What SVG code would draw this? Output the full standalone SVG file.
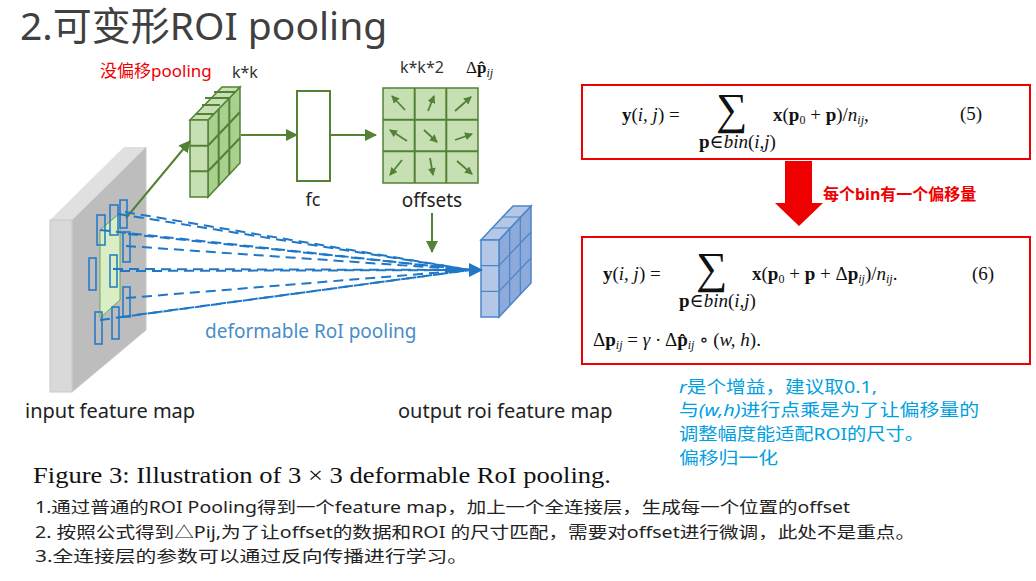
<svg xmlns="http://www.w3.org/2000/svg" width="1036" height="581" viewBox="0 0 1036 581">
<defs>
<style>
.sans{font-family:"Noto Sans","Noto Sans CJK SC",sans-serif}
.serif{font-family:"Liberation Serif","DejaVu Serif",serif}
.g{fill:#c6e0b4;stroke:#538135;stroke-width:1.5}
.gs{fill:#a9d08e;stroke:#538135;stroke-width:1.5}
.b{fill:#b4c7e7;stroke:#4a86c8;stroke-width:1.5}
.bs{fill:#8eaadb;stroke:#4a86c8;stroke-width:1.5}
.gl{stroke:#538135;stroke-width:2;fill:none}
.dash{stroke:#1f77c8;stroke-width:2;stroke-dasharray:10 6;fill:none}
.roi{fill:none;stroke:#1f77c8;stroke-width:1.5}
.eq{font-family:"Liberation Serif","DejaVu Serif",serif;font-size:19px;fill:#111}
.note{font-family:"Noto Sans","Noto Sans CJK SC",sans-serif;font-size:17px;fill:#00a0e0}
.line{font-family:"Noto Sans","Noto Sans CJK SC",sans-serif;font-size:16px;fill:#222}
</style>
<marker id="ga" markerWidth="8" markerHeight="8" refX="7" refY="4" orient="auto" markerUnits="userSpaceOnUse"><path d="M0,0 L8,4 L0,8 Z" fill="#538135"/></marker>
<marker id="gA" markerWidth="12" markerHeight="12" refX="11" refY="6" orient="auto" markerUnits="userSpaceOnUse"><path d="M0,0 L12,6 L0,12 Z" fill="#538135"/></marker>
<marker id="ba" markerWidth="14" markerHeight="14" refX="13" refY="7" orient="auto" markerUnits="userSpaceOnUse"><path d="M0,0 L14,7 L0,14 Z" fill="#1f77c8"/></marker>
</defs>
<rect width="1036" height="581" fill="#fff"/>
<text x="20" y="40" class="sans" font-size="39" fill="#404040">2.可变形ROI pooling</text>

<g id="input-map">
<polygon points="72,220 146,147 146,330 72,392" fill="#bdbdbd" stroke="#c8c8c8"/>
<polygon points="50,220 124,147 146,147 72,220" fill="#e0e0e0"/>
<rect x="50" y="220" width="22" height="172" fill="#d9d9d9" stroke="#c8c8c8"/>
<polygon points="100,230 120,213 120,300 100,318" fill="#d9eec4" stroke="#6aa84f"/>
<g class="roi">
<rect x="97" y="215" width="8" height="30"/><rect x="110" y="205" width="8" height="30"/><rect x="120" y="200" width="7" height="28"/>
<rect x="123" y="232" width="7" height="30"/><rect x="89" y="258" width="7" height="32"/><rect x="110" y="255" width="7" height="32"/>
<rect x="123" y="287" width="7" height="30"/><rect x="95" y="312" width="7" height="32"/><rect x="112" y="307" width="7" height="32"/>
</g>
<text x="25" y="418" class="sans" font-size="20" fill="#222">input feature map</text>
</g>

<g id="pooled-cube">
<polygon points="208,120 240,87 240,163 208,197" class="gs"/>
<polygon points="190,120 222,87 240,87 208,120" class="g"/>
<rect x="190" y="120" width="18" height="77" class="g"/>
<path d="M190,145.7 H208 M190,171.3 H208 M208,145.7 L240,112 M208,171.3 L240,138 M218.7,109 V186 M229.3,98 V175 M196,114 H214 M202,105 H220 M205,98 H230 M214,92 H236" class="gl" stroke-width="1.2"/>
<text x="232" y="78" class="sans" font-size="16" fill="#333">k*k</text>
<text x="100" y="77" class="sans" font-size="17" fill="#e00">没偏移pooling</text>
</g>

<g id="fc">
<rect x="297" y="91" width="33" height="90" fill="#fff" stroke="#538135" stroke-width="2"/>
<text x="313" y="206" class="sans" font-size="18" fill="#222" text-anchor="middle">fc</text>
</g>

<g id="offsets">
<rect x="383" y="88" width="95" height="95" class="g" stroke-width="2"/>
<path d="M414.7,88 V183 M446.3,88 V183 M383,119.7 H478 M383,151.3 H478" class="gl"/>
<g stroke="#538135" stroke-width="1.8" marker-end="url(#ga)">
<line x1="405" y1="110" x2="392" y2="96"/><line x1="428" y1="111" x2="434" y2="96"/><line x1="455" y1="111" x2="471" y2="97"/>
<line x1="407" y1="141" x2="390" y2="130"/><line x1="424" y1="130" x2="437" y2="142"/><line x1="455" y1="140" x2="472" y2="134"/>
<line x1="402" y1="160" x2="390" y2="175"/><line x1="430" y1="158" x2="433" y2="175"/><line x1="457" y1="161" x2="472" y2="174"/>
</g>
<text x="432" y="207" class="sans" font-size="19" fill="#222" text-anchor="middle">offsets</text>
<text x="400" y="73" class="sans" font-size="16" fill="#333">k*k*2</text>
<text x="466" y="73" class="serif" font-size="17" fill="#111">Δ<tspan font-weight="bold">p̂</tspan><tspan font-style="italic" font-size="12" dy="4">ij</tspan></text>
</g>

<g id="output-cube">
<polygon points="499,240 531,206 531,283 499,317" class="bs"/>
<polygon points="481,240 513,206 531,206 499,240" class="b"/>
<rect x="481" y="240" width="18" height="77" class="b"/>
<path d="M481,265.7 H499 M481,291.3 H499 M499,265.7 L531,232 M499,291.3 L531,258 M509.7,229 V306 M520.3,218 V295 M492,228 H510 M502,217 H522" stroke="#4a86c8" stroke-width="1.2" fill="none"/>
<text x="398" y="418" class="sans" font-size="20" fill="#222">output roi feature map</text>
</g>

<g id="connectors">
<line x1="126" y1="218" x2="190" y2="141" class="gl" marker-end="url(#gA)"/>
<line x1="241" y1="135" x2="297" y2="135" class="gl" marker-end="url(#gA)"/>
<line x1="330" y1="135" x2="376" y2="135" class="gl" marker-end="url(#gA)"/>
<line x1="432" y1="213" x2="432" y2="252" class="gl" marker-end="url(#gA)"/>
<g class="dash">
<line x1="118" y1="214" x2="470" y2="270"/><line x1="125" y1="212" x2="470" y2="270"/><line x1="100" y1="230" x2="470" y2="270"/>
<line x1="128" y1="234" x2="470" y2="270"/><line x1="126" y1="246" x2="470" y2="270"/><line x1="113" y1="269" x2="470" y2="270"/>
<line x1="120" y1="271" x2="470" y2="270"/><line x1="126" y1="298" x2="470" y2="270"/><line x1="121" y1="317" x2="470" y2="270"/>
<line x1="100" y1="320" x2="470" y2="270"/>
</g>
<line x1="440" y1="270" x2="482" y2="270" stroke="#1f77c8" stroke-width="2" marker-end="url(#ba)"/>
<text x="205" y="338" class="sans" font-size="19" fill="#4a8cc8">deformable RoI pooling</text>
</g>

<text x="33" y="483" class="serif" font-size="24" fill="#111" textLength="578" lengthAdjust="spacingAndGlyphs">Figure 3: Illustration of 3 × 3 deformable RoI pooling.</text>
<text x="35" y="513" class="line" textLength="815" lengthAdjust="spacingAndGlyphs">1.通过普通的ROI Pooling得到一个feature map，加上一个全连接层，生成每一个位置的offset</text>
<text x="35" y="538" class="line" textLength="880" lengthAdjust="spacingAndGlyphs">2. 按照公式得到△Pij,为了让offset的数据和ROI 的尺寸匹配，需要对offset进行微调，此处不是重点。</text>
<text x="35" y="562" class="line" textLength="433" lengthAdjust="spacingAndGlyphs">3.全连接层的参数可以通过反向传播进行学习。</text>

<g id="eq5">
<rect x="582" y="85" width="448" height="74" fill="#fff" stroke="#e00" stroke-width="2"/>
<text x="622" y="121" class="eq"><tspan font-weight="bold">y</tspan>(<tspan font-style="italic">i, j</tspan>) =</text>
<text x="716" y="124" class="serif" font-size="44" fill="#111">∑</text>
<text x="699" y="148" class="eq" font-size="12"><tspan font-weight="bold">p</tspan>∈<tspan font-style="italic">bin</tspan>(<tspan font-style="italic">i,j</tspan>)</text>
<text x="773" y="121" class="eq"><tspan font-weight="bold">x</tspan>(<tspan font-weight="bold">p</tspan><tspan font-size="12" dy="3">0</tspan><tspan dy="-3"> + </tspan><tspan font-weight="bold">p</tspan>)/<tspan font-style="italic">n</tspan><tspan font-style="italic" font-size="12" dy="3">ij</tspan><tspan dy="-3">,</tspan></text>
<text x="960" y="120" class="eq">(5)</text>
</g>

<g id="big-arrow">
<polygon points="785,161 812,161 812,203 823,203 799,226 775,203 785,203" fill="#e00"/>
<text x="823" y="200" class="sans" font-size="16" font-weight="bold" fill="#e00">每个bin有一个偏移量</text>
</g>

<g id="eq6">
<rect x="582" y="237" width="448" height="127" fill="#fff" stroke="#e00" stroke-width="2"/>
<text x="603" y="280" class="eq"><tspan font-weight="bold">y</tspan>(<tspan font-style="italic">i, j</tspan>) =</text>
<text x="696" y="283" class="serif" font-size="44" fill="#111">∑</text>
<text x="679" y="307" class="eq" font-size="12"><tspan font-weight="bold">p</tspan>∈<tspan font-style="italic">bin</tspan>(<tspan font-style="italic">i,j</tspan>)</text>
<text x="752" y="280" class="eq"><tspan font-weight="bold">x</tspan>(<tspan font-weight="bold">p</tspan><tspan font-size="12" dy="3">0</tspan><tspan dy="-3"> + </tspan><tspan font-weight="bold">p</tspan> + Δ<tspan font-weight="bold">p</tspan><tspan font-style="italic" font-size="12" dy="3">ij</tspan><tspan dy="-3">)/</tspan><tspan font-style="italic">n</tspan><tspan font-style="italic" font-size="12" dy="3">ij</tspan><tspan dy="-3">.</tspan></text>
<text x="972" y="280" class="eq">(6)</text>
<text x="593" y="346" class="eq">Δ<tspan font-weight="bold">p</tspan><tspan font-style="italic" font-size="12" dy="3">ij</tspan><tspan dy="-3"> = </tspan><tspan font-style="italic">γ</tspan> · Δ<tspan font-weight="bold">p̂</tspan><tspan font-style="italic" font-size="12" dy="3">ij</tspan><tspan dy="-3"> ∘ (</tspan><tspan font-style="italic">w, h</tspan>).</text>
</g>

<g id="notes">
<text x="679" y="393" class="note" textLength="198" lengthAdjust="spacingAndGlyphs"><tspan font-style="italic">r</tspan>是个增益，建议取0.1,</text>
<text x="679" y="416" class="note" textLength="300" lengthAdjust="spacingAndGlyphs">与<tspan font-style="italic">(w,h)</tspan>进行点乘是为了让偏移量的</text>
<text x="679" y="440" class="note" textLength="245" lengthAdjust="spacingAndGlyphs">调整幅度能适配ROI的尺寸。</text>
<text x="679" y="464" class="note" textLength="99" lengthAdjust="spacingAndGlyphs">偏移归一化</text>
</g>
</svg>
